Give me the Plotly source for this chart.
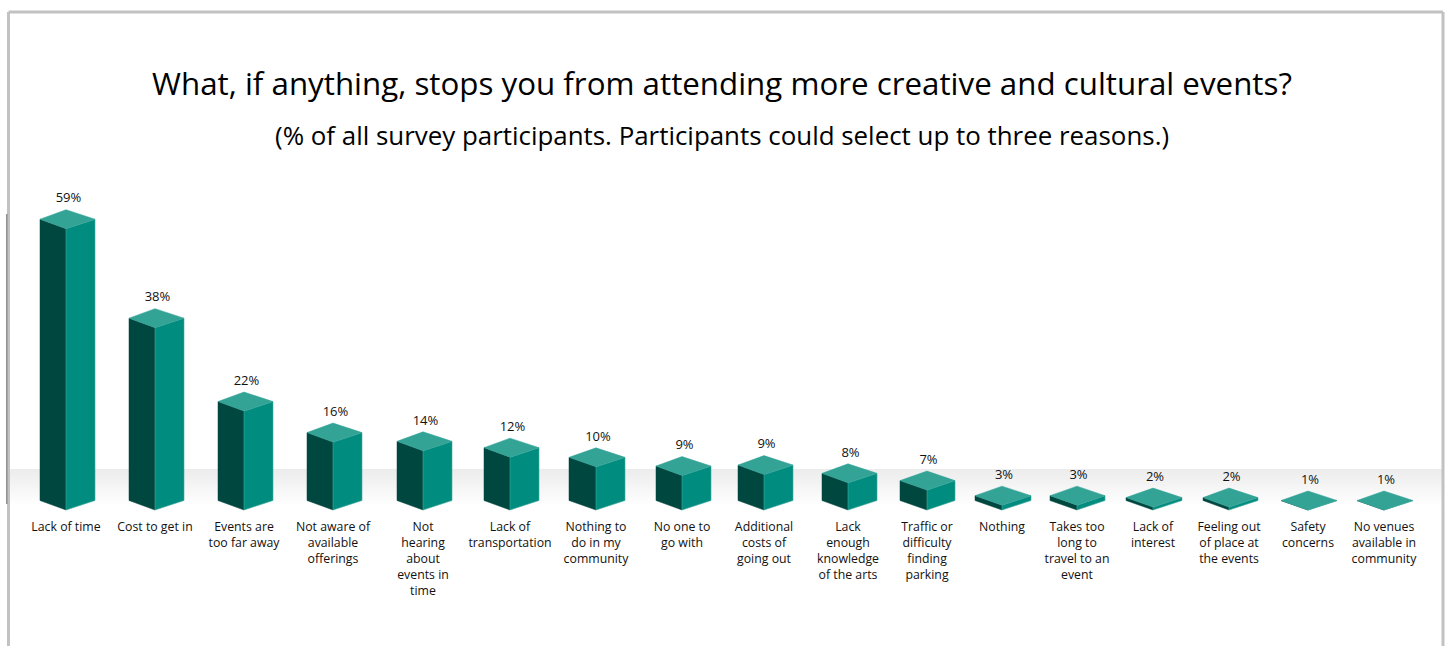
import plotly.graph_objects as go

FONT = "Open Sans"
W, H = 1448, 646
PLOT_BOTTOM = 512

categories = ["Lack of time", "Cost to get in", "Events are<br>too far away", "Not aware of<br>available<br>offerings",
              "Not<br>hearing<br>about<br>events in<br>time", "Lack of<br>transportation", "Nothing to<br>do in my<br>community",
              "No one to<br>go with", "Additional<br>costs of<br>going out", "Lack<br>enough<br>knowledge<br>of the arts",
              "Traffic or<br>difficulty<br>finding<br>parking", "Nothing", "Takes too<br>long to<br>travel to an<br>event",
              "Lack of<br>interest", "Feeling out<br>of place at<br>the events", "Safety<br>concerns", "No venues<br>available in<br>community"]
value_labels = ["59%", "38%", "22%", "16%", "14%", "12%", "10%", "9%", "9%", "8%", "7%", "3%", "3%", "2%", "2%", "1%", "1%"]
values = [59.0, 38.6, 21.4, 15.0, 13.2, 11.9, 9.9, 8.1, 8.3, 6.6, 5.1, 2.0, 2.0, 1.6, 1.6, 1.0, 1.0]

# horizontal layout of the (unevenly spaced) bars, in axis units
bar_left = [40, 129, 218, 307, 397, 484, 569, 656, 738, 822, 900, 975, 1050, 1126, 1203, 1281, 1357]
bar_mid = [66, 155, 244, 333, 423, 510, 596, 682, 764, 848, 927, 1002, 1077, 1153, 1229, 1308, 1384]
bar_right = [95, 184, 273, 362, 452, 539, 625, 711, 793, 877, 955, 1031, 1105, 1182, 1258, 1337, 1413]

BASE = 1.0
UNIT_PX = 4.85
DEPTH = 9.5 / UNIT_PX
LABEL_GAP = 4 / UNIT_PX
y_low = BASE - (PLOT_BOTTOM - 510) / UNIT_PX
y_high = BASE + 510 / UNIT_PX

DARK, MID, TOP = "#00473f", "#008c7f", "#33a396"


def py(p):
    return (PLOT_BOTTOM - p) / PLOT_BOTTOM


lx, ly, rx, ry, tx, ty = [], [], [], [], [], []
for l, m, r, v in zip(bar_left, bar_mid, bar_right, values):
    lx += [l, m, m, l, l, None]
    ly += [v + DEPTH, v, BASE, BASE + DEPTH, v + DEPTH, None]
    rx += [m, r, r, m, m, None]
    ry += [v, v + DEPTH, BASE + DEPTH, BASE, v, None]
    tx += [l, m, r, m, l, None]
    ty += [v + DEPTH, v + 2 * DEPTH, v + DEPTH, v, v + DEPTH, None]

fig = go.Figure()
fig.add_trace(go.Scatter(x=lx, y=ly, mode="lines", fill="toself", fillcolor=DARK,
                         line=dict(color=DARK, width=0.5), hoverinfo="skip"))
fig.add_trace(go.Scatter(x=rx, y=ry, mode="lines", fill="toself", fillcolor=MID,
                         line=dict(color="#45ab9f", width=0.6), hoverinfo="skip"))
fig.add_trace(go.Scatter(x=tx, y=ty, mode="lines", fill="toself", fillcolor=TOP,
                         line=dict(color=TOP, width=0.5), hoverinfo="skip"))
fig.add_trace(go.Scatter(x=[(l + r) / 2 + 1 for l, r in zip(bar_left, bar_right)],
                         y=[v + 2 * DEPTH + LABEL_GAP for v in values], mode="text", text=value_labels,
                         textposition="top center", cliponaxis=False,
                         textfont=dict(family=FONT, size=13, color="#111111"), hoverinfo="skip"))

shapes = []
# soft floor band
STEPS = 36
for i in range(STEPS):
    t = i / STEPS
    g = round(236 + (255 - 236) * t)
    shapes.append(dict(type="rect", xref="paper", yref="paper", x0=10 / W, x1=1442 / W,
                       y0=py(469 + i), y1=py(470 + i), fillcolor=f"rgb({g},{g},{g})",
                       line=dict(width=0), layer="below"))
# frame
FRAME = "#c2c2c2"
for x0, y0, x1, y1 in [(8.5, 12, 8.5, 646), (8.5, 12, 1443, 12), (1443, 12, 1443, 646)]:
    shapes.append(dict(type="line", xref="paper", yref="paper", x0=x0 / W, x1=x1 / W,
                       y0=py(y0), y1=py(y1), line=dict(color=FRAME, width=3)))
shapes.append(dict(type="line", xref="paper", yref="paper", x0=6.8 / W, x1=6.8 / W,
                   y0=py(214), y1=py(504), line=dict(color="#666666", width=1)))

fig.update_layout(
    width=W, height=H, margin=dict(l=0, r=0, t=0, b=H - PLOT_BOTTOM),
    paper_bgcolor="white", plot_bgcolor="rgba(0,0,0,0)", showlegend=False,
    shapes=shapes,
    title=dict(text="What, if anything, stops you from attending more creative and cultural events?",
               x=722 / W, xanchor="center", y=1 - 84 / H, yanchor="middle",
               font=dict(family=FONT, size=31.3, color="#000000")),
    xaxis=dict(range=[0, W], tickmode="array", tickvals=bar_mid, ticktext=categories,
               showgrid=False, zeroline=False, showline=False, ticks="", ticklabelstandoff=6,
               tickangle=0, tickfont=dict(family=FONT, size=12.3, color="#111111")),
    yaxis=dict(range=[y_low, y_high], visible=False),
    annotations=[dict(text="(% of all survey participants. Participants could select up to three reasons.)",
                      xref="paper", yref="paper", x=722 / W, y=py(135), xanchor="center", yanchor="middle",
                      showarrow=False, font=dict(family=FONT, size=25.9, color="#000000"))],
)
fig.write_html("out.html", config=dict(displayModeBar=False),
               post_script="document.body.style.margin='0';document.body.style.overflow='hidden';")
